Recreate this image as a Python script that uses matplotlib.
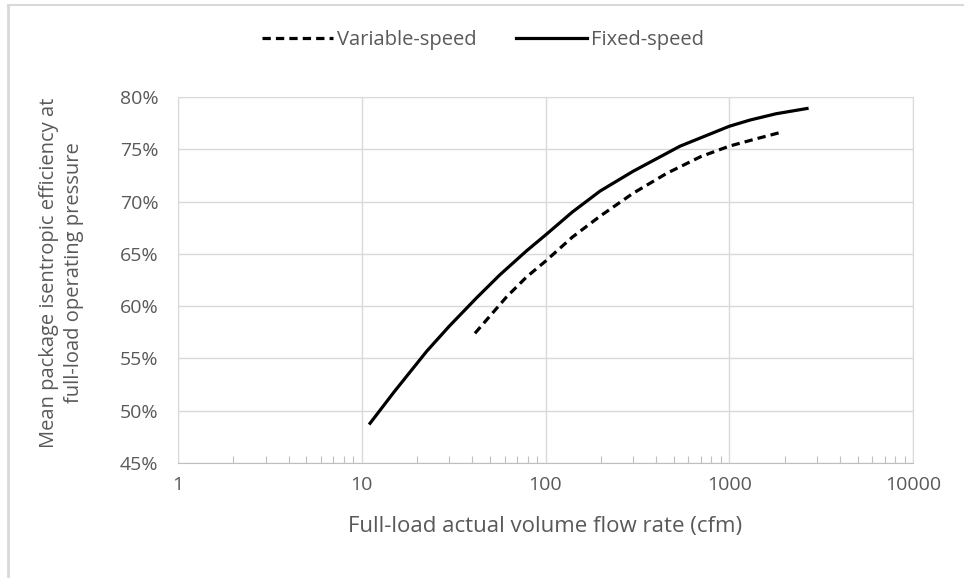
import matplotlib
matplotlib.use("Agg")
import matplotlib.pyplot as plt
from matplotlib.lines import Line2D
from matplotlib.ticker import LogLocator, FuncFormatter, MultipleLocator, NullFormatter

# values (x in cfm, y in %)
fixed_x = [11.1, 15, 22.6, 30, 42.2, 56.5, 79, 100, 140, 198, 300, 540, 1000, 1300, 1800, 2650]
fixed_y = [48.8, 51.8, 55.7, 58.1, 60.8, 63.0, 65.3, 66.8, 69.0, 71.0, 72.9, 75.3, 77.2, 77.8, 78.4, 78.9]
var_x = [41.3, 61.5, 79, 100, 140, 198, 300, 457, 700, 1000, 1400, 1889]
var_y = [57.4, 60.9, 62.8, 64.3, 66.6, 68.6, 70.8, 72.7, 74.3, 75.3, 76.0, 76.6]

x_ticks = [1, 10, 100, 1000, 10000]
grey = "#595959"
grid_c = "#d9d9d9"

plt.rcParams["font.family"] = ["Open Sans", "DejaVu Sans"]

fig = plt.figure(figsize=(9.64, 5.78), dpi=100)
ax = fig.add_axes([178 / 964, 1 - 463 / 578, (913 - 178) / 964, (463 - 97) / 578])

ax.plot(var_x, var_y, color="black", lw=2.3, linestyle=(0, (2.6, 1.6)),
        label="Variable-speed", solid_capstyle="butt")
ax.plot(fixed_x, fixed_y, color="black", lw=2.3, label="Fixed-speed")

ax.set_xscale("log")
ax.set_xlim(1, 10000)
ax.set_ylim(45, 80)
ax.set_xticks(x_ticks)
ax.xaxis.set_major_formatter(FuncFormatter(lambda v, p: "%d" % v))
ax.xaxis.set_minor_locator(LogLocator(base=10, subs=range(2, 10)))
ax.xaxis.set_minor_formatter(NullFormatter())
ax.yaxis.set_major_locator(MultipleLocator(5))
ax.yaxis.set_major_formatter(FuncFormatter(lambda v, p: "%d%%" % v))

ax.grid(True, which="major", color=grid_c, lw=1)
ax.tick_params(axis="both", which="major", length=0, labelsize=14, colors=grey)
ax.tick_params(axis="x", which="major", pad=9)
ax.tick_params(axis="y", which="major", pad=14)
ax.tick_params(axis="x", which="minor", direction="in", length=5, color="#bfbfbf", width=0.8)
for s in ax.spines.values():
    s.set_color(grid_c)
ax.spines["bottom"].set_color("#bfbfbf")

ax.set_xlabel("Full-load actual volume flow rate (cfm)", fontsize=16, color=grey)
ax.xaxis.set_label_coords(0.5, -0.145)
ax.set_ylabel("Mean package isentropic efficiency at\nfull-load operating pressure",
              fontsize=14.5, color=grey, linespacing=1.3)
ax.yaxis.set_label_coords(-0.128, 0.52)

fig.legend(loc="center", bbox_to_anchor=(483 / 964, 1 - 40 / 578), ncol=2, frameon=False,
           fontsize=14.5, labelcolor=grey, handlelength=3.5, handletextpad=0.2,
           columnspacing=2.0)

# outer chart frame (only top and left edges are visible)
fig.add_artist(Line2D([8 / 964, 8 / 964], [0, 1 - 5 / 578], transform=fig.transFigure,
                      color=grid_c, lw=2))
fig.add_artist(Line2D([8 / 964, 1], [1 - 5 / 578, 1 - 5 / 578], transform=fig.transFigure,
                      color=grid_c, lw=1.5))

fig.savefig("out.png", dpi=100)
